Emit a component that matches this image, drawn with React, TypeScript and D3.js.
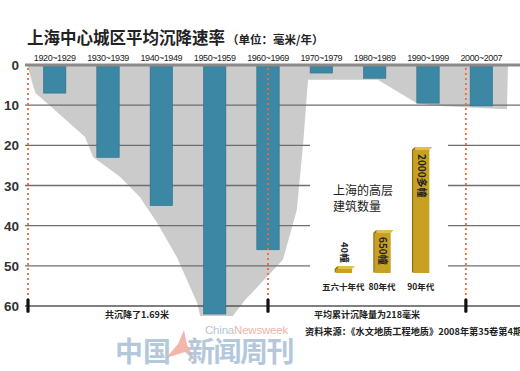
import * as d3 from 'd3';

const decades = ['1920~1929', '1930~1939', '1940~1949', '1950~1959', '1960~1969', '1970~1979', '1980~1989', '1990~1999', '2000~2007'];
const rates = [7, 23, 35, 62, 46, 2, 3.3, 9.5, 10.2];
const yTicks = [0, 10, 20, 30, 40, 50, 60];

// grey backdrop outline: [decade position, mm]
const backdrop: [number, number][] = [
  [-0.5, 0], [-0.5, 0.5], [-0.42, 4.5], [-0.36, 7], [-0.14, 9.5], [0.57, 17.9], [0.72, 22.9],
  [1.23, 27.9], [1.6, 32.9], [1.92, 39.3], [2.29, 47.8], [2.67, 59.2], [2.73, 62.5],
  [3.34, 62.5], [3.57, 58.5], [4.28, 48.5], [4.54, 36.1], [4.66, 19.4], [4.75, 3.7],
  [6.06, 3.7], [6.79, 9.5], [7.23, 10.2], [8.48, 11], [8.5, 0],
];

const markers = [-0.5, 4, 7.71];

const towerEras = ['五六十年代', '80年代', '90年代'];
const towerCounts = [40, 650, 2000];
const towerLabels = ['40幢', '650幢', '2000多幢'];

const W = 520;
const H = 371;
const CJK = '"Noto Sans CJK SC", "Liberation Sans", sans-serif';
const LAT = '"Liberation Sans", Arial, sans-serif';

export default function App() {
  const x = d3.scaleBand<string>().domain(decades).range([28, 508]).paddingInner(0.58).paddingOuter(0.29);
  const xPos = d3.scaleLinear().domain([-0.5, 8.5]).range([28, 508]);
  const y = d3.scaleLinear().domain([0, 60]).range([65, 306]);

  const area = d3.line<[number, number]>()
    .x(d => xPos(d[0]))
    .y(d => y(d[1]))
    .curve(d3.curveLinearClosed);

  const tx = d3.scaleBand<string>().domain(towerEras).range([325, 439]).paddingInner(0.55).paddingOuter(0.25);
  const ty = d3.scaleLinear().domain([0, 2000]).range([273, 150]);
  const depth = 3;

  return (
    <svg width={W} height={H} style={{ position: 'absolute', left: 0, top: 0, background: '#fff' }}>
      {/* title */}
      <text x={27} y={44} fontFamily={CJK} fontWeight={700} fontSize={16.5} fill="#222">
        上海中心城区平均沉降速率
        <tspan fontSize={11.5} dx={2}>（单位：毫米/年）</tspan>
      </text>

      {/* decade labels */}
      {decades.map(d => (
        <text key={d} x={(x(d) ?? 0) + x.bandwidth() / 2} y={61} textAnchor="middle"
          fontFamily={LAT} fontSize={9} letterSpacing={-0.4} fill="#222">{d}</text>
      ))}

      {/* grey backdrop */}
      <path d={area(backdrop) ?? ''} fill="#cbcbcb" />

      {/* grid lines */}
      {yTicks.filter(t => t > 0 && t < 60).map(t => (
        t === 10
          ? <line key={t} x1={25} x2={W} y1={y(t)} y2={y(t)} stroke="#6e6e6e" strokeWidth={1.4} />
          : <g key={t}>
              <line x1={25} x2={310} y1={y(t)} y2={y(t)} stroke="#6e6e6e" strokeWidth={1.4} />
              <line x1={448} x2={W} y1={y(t)} y2={y(t)} stroke="#6e6e6e" strokeWidth={1.4} />
            </g>
      ))}
      <line x1={25} x2={W} y1={y(60)} y2={y(60)} stroke="#555" strokeWidth={1.5} />

      {/* bars */}
      {decades.map((d, i) => (
        <rect key={d} x={x(d)} y={y(0) + 1} width={x.bandwidth()} height={y(rates[i]) - y(0) - 1}
          fill="#3c87a3" stroke="#2f6f88" strokeWidth={0.6} />
      ))}

      {/* zero line */}
      <line x1={25} x2={W} y1={y(0)} y2={y(0)} stroke="#8a8a8a" strokeWidth={3} />

      {/* y labels */}
      {yTicks.map(t => (
        <text key={t} x={19} y={y(t) + 5} textAnchor="end" fontFamily={LAT} fontSize={13.5}
          fontWeight={700} fill="#333">{t}</text>
      ))}

      {/* red dotted markers and black ticks */}
      {markers.map(m => (
        <g key={m}>
          <line x1={xPos(m)} x2={xPos(m)} y1={y(0) + 3} y2={y(58.5)} stroke="#ec6a3d"
            strokeWidth={1.8} strokeDasharray="2,3" />
          <rect x={xPos(m) - 1.6} y={y(58.2)} width={3.2} height={14} fill="#111" rx={1} />
        </g>
      ))}

      {/* annotations under the axis */}
      <text x={137} y={318} textAnchor="middle" fontFamily={CJK} fontWeight={700} fontSize={9} fill="#222">共沉降了1.69米</text>
      <text x={367} y={318} textAnchor="middle" fontFamily={CJK} fontWeight={700} fontSize={9} fill="#222">平均累计沉降量为218毫米</text>
      <text x={305} y={335} fontFamily={CJK} fontWeight={700} fontSize={9.2} fill="#222">资料来源：《水文地质工程地质》2008年第35卷第4期</text>

      {/* inset: high-rise buildings */}
      <text x={333} y={195} fontFamily={CJK} fontSize={12} fill="#222">上海的高层</text>
      <text x={333} y={211} fontFamily={CJK} fontSize={12} fill="#222">建筑数量</text>
      {towerEras.map((e, i) => {
        const bx = tx(e) ?? 0;
        const bw = tx.bandwidth();
        const top = Math.min(ty(towerCounts[i]), ty(0) - 4);
        const base = ty(0);
        const cx = bx + bw / 2;
        return (
          <g key={e}>
            <polygon points={`${bx},${top} ${bx + depth},${top - depth} ${bx + bw + depth},${top - depth} ${bx + bw},${top}`} fill="#e2bf4a" />
            <polygon points={`${bx},${top} ${bx + depth},${top - depth} ${bx + depth},${base - depth} ${bx},${base}`} fill="#8f6e10" />
            <rect x={bx + depth * 0.4} y={top} width={bw - depth * 0.4} height={base - top} fill="#c8a024" />
            {i === 0 ? (
              <text transform={`translate(${cx - 2},${top - 27}) rotate(90)`} fontFamily={CJK} fontWeight={700}
                fontSize={9.5} fill="#222">{towerLabels[i]}</text>
            ) : (
              <text transform={`translate(${cx - 3},${top + 4}) rotate(90)`} fontFamily={CJK} fontWeight={700}
                fontSize={10} fill="#222">{towerLabels[i]}</text>
            )}
            <text x={cx} y={290} textAnchor="middle" fontFamily={CJK} fontWeight={700} fontSize={8.5} fill="#222">{e}</text>
          </g>
        );
      })}

      {/* watermark */}
      <text x={205} y={334} fontFamily={LAT} fontSize={11.5} letterSpacing={-0.2} fill="#b7c6d6">
        China<tspan fill="#f0b3a8">Newsweek</tspan>
      </text>
      <text x={115} y={362} fontFamily={CJK} fontWeight={700} fontSize={28} fill="#aec3d8" opacity={0.9}>中国</text>
      <path d="M166,358 L178,344 L184,330 L187,345 L196,362 L185,352 Z" fill="#f2a89c" opacity={0.85} />
      <text x={187} y={362} fontFamily={CJK} fontWeight={700} fontSize={28} letterSpacing={-1.5} fill="#aec3d8" opacity={0.9}>新闻周刊</text>
    </svg>
  );
}
